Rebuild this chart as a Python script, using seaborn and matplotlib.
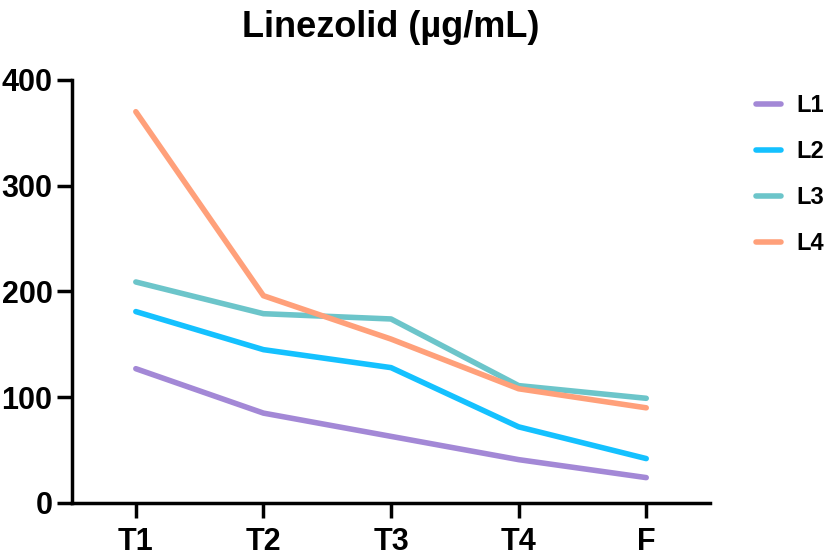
import pandas as pd
import numpy as np
import matplotlib
matplotlib.use("Agg")
import matplotlib.pyplot as plt
import seaborn as sns

# values
timepoints = ["T1", "T2", "T3", "T4", "F"]
L1 = [127, 85, 63, 41, 24]
L2 = [181, 145, 128, 72, 42]
L3 = [209, 179, 174, 111, 99]
L4 = [370, 196, 155, 108, 90]
series_names = ["L1", "L2", "L3", "L4"]
colors = ["#A388D6", "#14C1FF", "#6CC5CA", "#FFA07A"]

frames = []
for name, vals in zip(series_names, [L1, L2, L3, L4]):
    frames.append(pd.DataFrame({"Time": timepoints, "Conc": vals, "Group": name}))
data = pd.concat(frames, ignore_index=True)

sns.set_style("ticks")
plt.rcParams["font.family"] = ["Liberation Sans", "DejaVu Sans"]
plt.rcParams["font.weight"] = "bold"
plt.rcParams["text.color"] = "black"

fig = plt.figure(figsize=(8.26, 5.55), dpi=100)
ax = fig.add_axes([0.0872, 0.0937, 0.7724, 0.7622])

sns.lineplot(data=data, x="Time", y="Conc", hue="Group", palette=colors,
             linewidth=4, sort=False, ax=ax)

ax.set_xlim(-0.5, 4.5)
ax.set_ylim(0, 400)
ax.set_yticks([0, 100, 200, 300, 400])
ax.set_xlabel("")
ax.set_ylabel("")
ax.set_title("Linezolid (µg/mL)", fontsize=26, fontweight="bold", pad=31,
             color="black")

sns.despine(ax=ax)
for sp in ["left", "bottom"]:
    ax.spines[sp].set_linewidth(2.5)
    ax.spines[sp].set_color("black")
ax.tick_params(axis="both", width=2.5, length=11, color="black",
               labelsize=22, labelcolor="black")
ax.tick_params(axis="x", pad=6)
ax.tick_params(axis="y", pad=3)
for lab in ax.get_xticklabels() + ax.get_yticklabels():
    lab.set_fontweight("bold")

leg = ax.legend(loc="upper left", bbox_to_anchor=(0.915, 0.831),
                bbox_transform=fig.transFigure, frameon=False, fontsize=17,
                borderpad=0, borderaxespad=0,
                handlelength=1.06, handletextpad=0.65, labelspacing=0.98)
for t in leg.get_texts():
    t.set_fontweight("bold")
    t.set_color("black")

fig.savefig("out.png", dpi=100)
